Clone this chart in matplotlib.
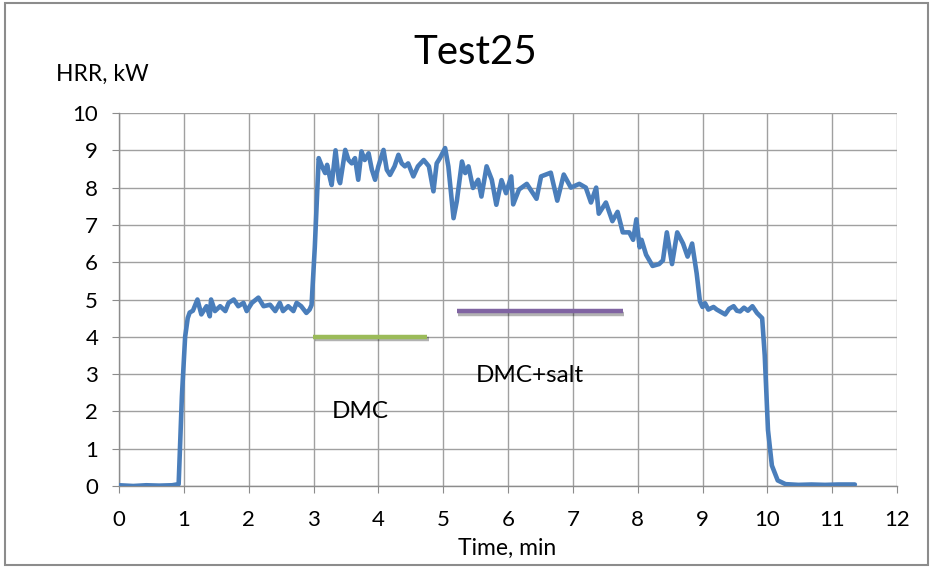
import matplotlib
matplotlib.use("Agg")
import matplotlib.pyplot as plt
import matplotlib.patheffects as pe
from matplotlib.patches import Rectangle

plt.rcParams['font.family'] = ['Lato', 'DejaVu Sans']

time_min = [0.0, 0.22, 0.42, 0.62, 0.82, 0.92, 0.97, 1.02, 1.06, 1.09,
            1.14, 1.21, 1.27, 1.35, 1.40, 1.42, 1.48, 1.56, 1.64, 1.69,
            1.77, 1.84, 1.92, 1.97, 2.05, 2.15, 2.23, 2.33, 2.41, 2.48,
            2.53, 2.61, 2.69, 2.74, 2.81, 2.89, 2.94, 2.97, 3.02, 3.08,
            3.13, 3.18, 3.21, 3.26, 3.28, 3.34, 3.39, 3.41, 3.49, 3.54,
            3.59, 3.64, 3.69, 3.74, 3.79, 3.85, 3.90, 3.95, 4.00, 4.08,
            4.13, 4.18, 4.25, 4.31, 4.36, 4.41, 4.46, 4.54, 4.61, 4.70,
            4.78, 4.85, 4.90, 4.95, 5.03, 5.08, 5.16, 5.21, 5.29, 5.34,
            5.39, 5.46, 5.54, 5.59, 5.67, 5.75, 5.82, 5.90, 5.97, 6.05,
            6.08, 6.17, 6.29, 6.44, 6.51, 6.66, 6.76, 6.86, 6.97, 7.10,
            7.20, 7.28, 7.36, 7.40, 7.51, 7.61, 7.69, 7.77, 7.87, 7.93,
            7.98, 8.03, 8.06, 8.13, 8.23, 8.33, 8.39, 8.45, 8.53, 8.61,
            8.70, 8.77, 8.84, 8.91, 8.96, 9.00, 9.04, 9.09, 9.17, 9.22,
            9.30, 9.35, 9.41, 9.48, 9.53, 9.58, 9.64, 9.70, 9.77, 9.84,
            9.92, 9.96, 10.01, 10.07, 10.16, 10.28, 10.48, 10.68, 10.89, 11.09,
            11.35]
hrr_kw = [0.02, 0.0, 0.02, 0.01, 0.02, 0.05, 2.4, 4.0, 4.5, 4.65,
          4.7, 5.0, 4.6, 4.82, 4.55, 5.0, 4.69, 4.82, 4.69, 4.91,
          5.0, 4.82, 4.91, 4.69, 4.91, 5.05, 4.82, 4.86, 4.69, 4.91,
          4.69, 4.82, 4.69, 4.91, 4.82, 4.64, 4.73, 4.85, 6.4, 8.79,
          8.57, 8.39, 8.61, 8.21, 8.07, 9.0, 8.21, 8.12, 9.01, 8.74,
          8.65, 8.79, 8.21, 8.97, 8.74, 8.92, 8.48, 8.21, 8.57, 9.01,
          8.48, 8.34, 8.57, 8.88, 8.65, 8.57, 8.65, 8.30, 8.57, 8.74,
          8.57, 7.90, 8.65, 8.79, 9.06, 8.57, 7.18, 7.63, 8.70, 8.39,
          8.57, 7.99, 8.21, 7.76, 8.57, 8.21, 7.54, 8.2, 7.85, 8.3,
          7.55, 7.95, 8.1, 7.7, 8.3, 8.4, 7.65, 8.35, 8.0, 8.1,
          8.0, 7.6, 8.0, 7.3, 7.6, 7.1, 7.35, 6.8, 6.8, 6.6,
          7.15, 6.4, 6.6, 6.2, 5.9, 5.95, 6.05, 6.8, 5.95, 6.8,
          6.5, 6.15, 6.5, 5.7, 4.95, 4.8, 4.9, 4.73, 4.8, 4.73,
          4.65, 4.6, 4.75, 4.82, 4.7, 4.68, 4.78, 4.7, 4.82, 4.64,
          4.5, 3.5, 1.5, 0.55, 0.15, 0.05, 0.03, 0.04, 0.03, 0.04,
          0.04]

dmc_span = [2.99, 4.75]
dmc_level = 4.0
salt_span = [5.21, 7.77]
salt_level = 4.68

x_ticks = list(range(0, 13))
y_ticks = list(range(0, 11))

fig = plt.figure(figsize=(9.33, 5.67), dpi=100)
fig.patches.append(Rectangle((0.005, 0.004), 0.99, 0.99, transform=fig.transFigure,
                             fill=False, edgecolor='#8c8c8c', linewidth=1.5))
ax = fig.add_axes([119 / 933, 81 / 567, 778 / 933, 373 / 567])

shadow = [pe.SimpleLineShadow(offset=(1.2, -1.5), alpha=0.3), pe.Normal()]
ax.plot(dmc_span, [dmc_level, dmc_level], color='#9BBB59', linewidth=3.2,
        solid_capstyle='butt', path_effects=shadow, zorder=3)
ax.plot(salt_span, [salt_level, salt_level], color='#8064A2', linewidth=3.2,
        solid_capstyle='butt', path_effects=shadow, zorder=3)
ax.plot(time_min, hrr_kw, color='#4A7EBB', linewidth=3.3, zorder=4,
        solid_joinstyle='round', solid_capstyle='round')

ax.text(3.72, 2.0, 'DMC', fontsize=17.5, ha='center', va='center')
ax.text(6.34, 2.96, 'DMC+salt', fontsize=17.5, ha='center', va='center')

ax.set_xlim(0, 12)
ax.set_ylim(0, 10)
ax.set_xticks(x_ticks)
ax.set_yticks(y_ticks)
ax.tick_params(labelsize=16, length=5, color='#8c8c8c')
ax.tick_params(axis='x', pad=12)
ax.tick_params(axis='y', pad=10)
ax.grid(True, color='#a0a0a0', linewidth=1.0)
ax.set_axisbelow(True)
for s in ['top', 'right']:
    ax.spines[s].set_visible(False)
for s in ['left', 'bottom']:
    ax.spines[s].set_color('#8c8c8c')
    ax.spines[s].set_linewidth(1.0)

fig.text(475 / 933, 1 - 53 / 567, 'Test25', fontsize=29, ha='center', va='center')
fig.text(56 / 933, 1 - 74 / 567, 'HRR, kW', fontsize=16.5, ha='left', va='center')
fig.text(507 / 933, 1 - 548 / 567, 'Time, min', fontsize=16.5, ha='center', va='center')

fig.savefig('out.png', dpi=100)
